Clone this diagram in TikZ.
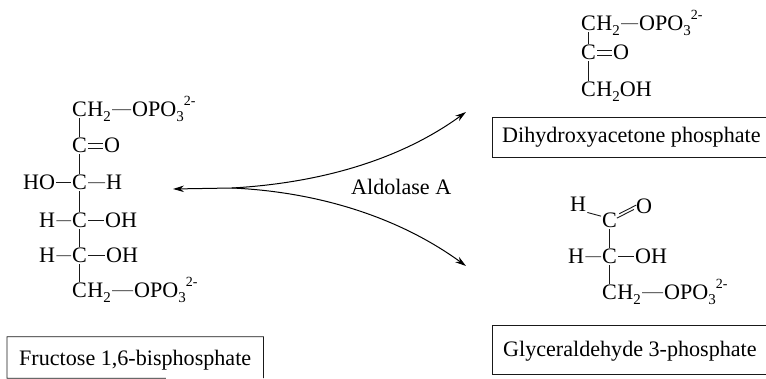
\documentclass[tikz,border=0pt]{standalone}
\usepackage{fontspec}
\setmainfont{Liberation Serif}
\usetikzlibrary{arrows.meta,calc}
\newcommand\lowsub[1]{\smash{\raisebox{-4.5pt}{\fontsize{15}{15}\selectfont #1}}}
\newcommand\highsup[1]{\smash{\raisebox{11pt}{\fontsize{14}{14}\selectfont #1}}}
\newcommand\phos{OPO\lowsub{3}\highsup{2-}}
\newcommand\boxtext[2]{\makebox[#1][l]{#2}}
\tikzset{
  atom/.style={inner sep=0pt,anchor=base west,font=\fontsize{22.1}{24}\selectfont,text=black},
  bond/.style={line width=0.9pt,black!90,shorten <=1pt,shorten >=1pt},
  rxn/.style={line width=1pt,black,-{Stealth[length=11pt,width=6.5pt]}},
  boxlabel/.style={atom,inner xsep=12pt,inner ysep=0pt},
  edge/.style={line width=0.8pt,black!90}
}
\begin{document}
\begin{tikzpicture}[x=1pt,y=-1pt]
\useasboundingbox (0,0) rectangle (766,379);
% Fructose 1,6-bisphosphate
\node[atom] (fc1) at (72,117) {C};
\node[atom] (fh1) at (fc1.base east) {H\lowsub{2}};
\node[atom] (fp1) at (132,117) {\phos};
\node[atom] (fc2) at (72,153) {C};
\node[atom] (fo2) at (104,153) {O};
\node[atom] (fho) at (23,190) {HO};
\node[atom] (fc3) at (72,190) {C};
\node[atom] (fh3) at (106,190) {H};
\node[atom] (fh4) at (39,228) {H};
\node[atom] (fc4) at (72,228) {C};
\node[atom] (fo4) at (105,228) {OH};
\node[atom] (fh5) at (39,263) {H};
\node[atom] (fc5) at (72,263) {C};
\node[atom] (fo5) at (106,263) {OH};
\node[atom] (fc6) at (72,298) {C};
\node[atom] (fh6) at (fc6.base east) {H\lowsub{2}};
\node[atom] (fp6) at (134,298) {\phos};
\draw[bond] (fh1.east) -- (fp1.west);
\draw[bond] ([yshift=2.6pt]fc2.east) -- ([yshift=2.6pt]fo2.west);
\draw[bond] ([yshift=-2.6pt]fc2.east) -- ([yshift=-2.6pt]fo2.west);
\draw[bond] (fho.east) -- (fc3.west);
\draw[bond] (fc3.east) -- (fh3.west);
\draw[bond] (fh4.east) -- (fc4.west);
\draw[bond] (fc4.east) -- (fo4.west);
\draw[bond] (fh5.east) -- (fc5.west);
\draw[bond] (fc5.east) -- (fo5.west);
\draw[bond] (fh6.east) -- (fp6.west);
\draw[bond] (fc1.south) -- (fc2.north);
\draw[bond] (fc2.south) -- (fc3.north);
\draw[bond] (fc3.south) -- (fc4.north);
\draw[bond] (fc4.south) -- (fc5.north);
\draw[bond] (fc5.south) -- (fc6.north);
\node[boxlabel,text height=29pt,text depth=12pt] (fbox) at (7,366) {\boxtext{232pt}{Fructose 1,6-bisphosphate}};
\draw[edge] ($(fbox.south west)!0.62!(fbox.south east)$) -- (fbox.south west) -- (fbox.north west) -- (fbox.north east) -- (fbox.south east);
% Dihydroxyacetone phosphate
\node[atom] (dc1) at (581,31) {C};
\node[atom] (dh1) at (dc1.base east) {H\lowsub{2}};
\node[atom] (dp1) at (639,31) {\phos};
\node[atom] (dc2) at (581,60) {C};
\node[atom] (do2) at (613,60) {O};
\node[atom] (dc3) at (581,97) {C};
\node[atom] (dh3) at (dc3.base east) {H\lowsub{2}OH};
\draw[bond] (dh1.east) -- (dp1.west);
\draw[bond] ([yshift=2.6pt]dc2.east) -- ([yshift=2.6pt]do2.west);
\draw[bond] ([yshift=-2.6pt]dc2.east) -- ([yshift=-2.6pt]do2.west);
\draw[bond] (dc1.south) -- (dc2.north);
\draw[bond] (dc2.south) -- (dc3.north);
\node[boxlabel,inner xsep=10pt,text height=25pt,text depth=14pt] (dbox) at (492,143) {\boxtext{254pt}{Dihydroxyacetone phosphate}};
\draw[edge] (dbox.north east) -- (dbox.north west) -- (dbox.south west) -- (dbox.south east);
% Glyceraldehyde 3-phosphate
\node[atom] (gh1) at (570,212) {H};
\node[atom] (go1) at (636,214) {O};
\node[atom] (gc1) at (602,228) {C};
\node[atom] (gh2) at (568,264) {H};
\node[atom] (gc2) at (602,264) {C};
\node[atom] (go2) at (635,264) {OH};
\node[atom] (gc3) at (602,300) {C};
\node[atom] (gh3) at (gc3.base east) {H\lowsub{2}};
\node[atom] (gp3) at (664,300) {\phos};
\draw[bond] (gh1.south east) -- (gc1.150);
\draw[bond] ([xshift=-1.2pt,yshift=-2.2pt]gc1.30) -- ([xshift=-1.2pt,yshift=-2.2pt]go1.west);
\draw[bond] ([xshift=1.2pt,yshift=2.2pt]gc1.30) -- ([xshift=1.2pt,yshift=2.2pt]go1.west);
\draw[bond] (gc1.south) -- (gc2.north);
\draw[bond] (gh2.east) -- (gc2.west);
\draw[bond] (gc2.east) -- (go2.west);
\draw[bond] (gc2.south) -- (gc3.north);
\draw[bond] (gh3.east) -- (gp3.west);
\node[boxlabel,inner xsep=11pt,text height=31pt,text depth=17pt] (gbox) at (492,357) {\boxtext{252pt}{Glyceraldehyde 3-phosphate}};
\draw[edge] (gbox.north east) -- (gbox.north west) -- (gbox.south west) -- (gbox.south east);
% Reaction arrows
\node[atom] (enz) at (351,195) {Aldolase A};
\coordinate (split) at (232,188);
\coordinate (tipF) at (173,189);
\coordinate (tipD) at (466,112);
\coordinate (tipG) at (466,266);
\draw[rxn] (split) -- (tipF);
\draw[rxn] (split) .. controls (320,183) and (400,160) .. (tipD);
\draw[rxn] (split) .. controls (320,192) and (400,218) .. (tipG);
\end{tikzpicture}
\end{document}
